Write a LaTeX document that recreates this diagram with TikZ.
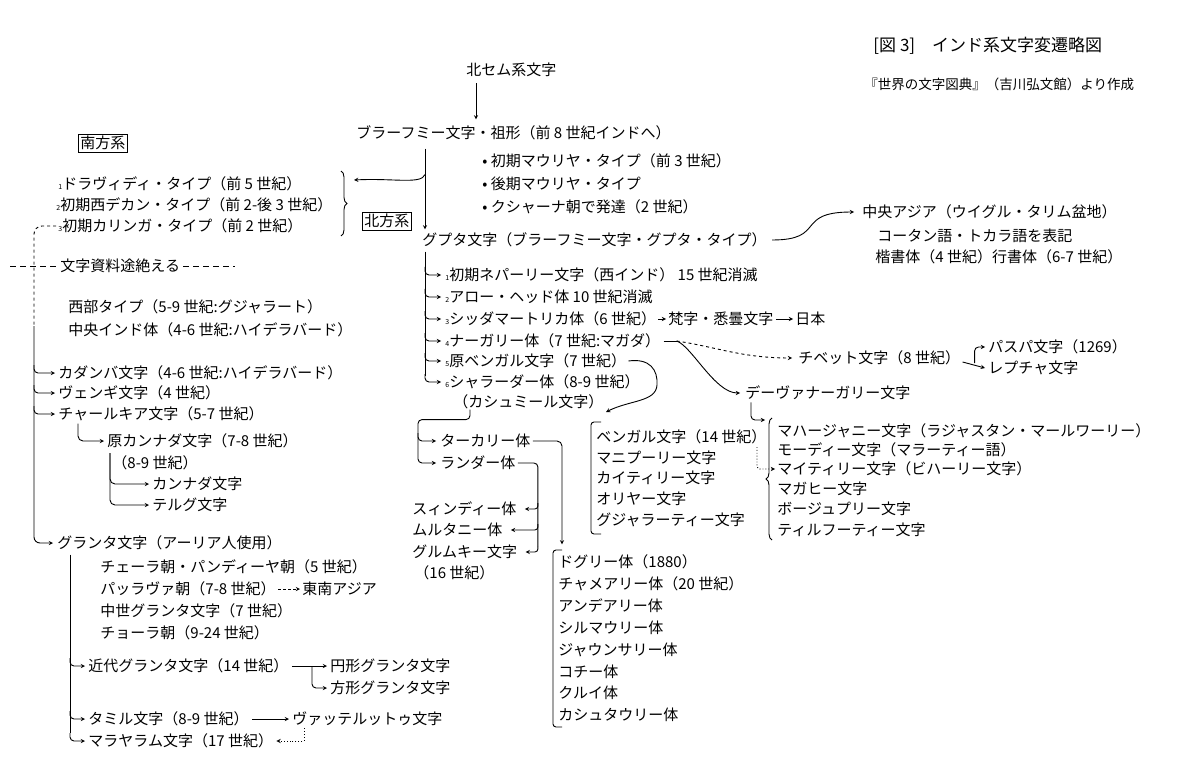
\documentclass[tikz,border=0pt]{standalone}
\usepackage{fontspec}
\setmainfont{Noto Sans CJK JP}
\usetikzlibrary{calc,decorations.pathreplacing}
\newcommand{\jpsize}{\fontsize{15}{17}\selectfont}
\newcommand{\snum}[1]{{\fontsize{7}{7}\selectfont #1}}

\begin{document}
\begin{tikzpicture}[x=1pt, y=-1pt, line width=0.9pt, every node/.style={font=\jpsize}]
        \tikzstyle{txt} = [anchor=west, inner sep=0pt]
        \tikzstyle{tag} = [draw, anchor=west, inner sep=2pt, line width=0.7pt]
        \tikzstyle{link} = [->, >=stealth]
        \useasboundingbox (0,0) rectangle (1200,770);

        % heading
        \node[txt, font=\fontsize{17}{19}\selectfont] (title) at (873,46) {[図 3]\quad インド系文字変遷略図};
        \node[txt, font=\fontsize{13.5}{15}\selectfont] (source) at (864,84) {『世界の文字図典』（吉川弘文館）より作成};

        % root
        \node[txt] (semitic) at (466,70) {北セム系文字};
        \node[txt] (brahmi) at (356,133) {ブラーフミー文字・祖形（前 8 世紀インドへ）};
        \node[txt] (maurya1) at (482,161) {•\ 初期マウリヤ・タイプ（前 3 世紀）};
        \node[txt] (maurya2) at (482,184) {•\ 後期マウリヤ・タイプ};
        \node[txt] (kushana) at (482,207) {•\ クシャーナ朝で発達（2 世紀）};
        \node[tag] (south) at (78,143) {南方系};
        \node[tag] (north) at (362,221) {北方系};

        % southern branch
        \node[txt] (dravidi) at (58,184) {\snum{1}ドラヴィディ・タイプ（前 5 世紀）};
        \node[txt] (deccan) at (56,205) {\snum{2}初期西デカン・タイプ（前 2-後 3 世紀）};
        \node[txt] (kalinga) at (58,226) {\snum{3}初期カリンガ・タイプ（前 2 世紀）};
        \node[txt] (gap) at (60,266) {文字資料途絶える};
        \node[txt] (western) at (68,307) {西部タイプ（5-9 世紀:グジャラート）};
        \node[txt] (central) at (68,330) {中央インド体（4-6 世紀:ハイデラバード）};
        \node[txt] (kadamba) at (58,373) {カダンバ文字（4-6 世紀:ハイデラバード）};
        \node[txt] (vengi) at (58,393) {ヴェンギ文字（4 世紀）};
        \node[txt] (chalukya) at (58,414) {チャールキア文字（5-7 世紀）};
        \node[txt] (protokan) at (107,441) {原カンナダ文字（7-8 世紀）};
        \node[txt] (kancent) at (112,463) {（8-9 世紀）};
        \node[txt] (kannada) at (152,484) {カンナダ文字};
        \node[txt] (telugu) at (152,505) {テルグ文字};
        \node[txt] (grantha) at (57,543) {グランタ文字（アーリア人使用）};
        \node[txt] (chera) at (100,567) {チェーラ朝・パンディーヤ朝（5 世紀）};
        \node[txt] (pallava) at (100,589) {パッラヴァ朝（7-8 世紀）};
        \node[txt] (seasia) at (302,589) {東南アジア};
        \node[txt] (medgr) at (100,611) {中世グランタ文字（7 世紀）};
        \node[txt] (chola) at (100,633) {チョーラ朝（9-24 世紀）};
        \node[txt] (modgr) at (88,666) {近代グランタ文字（14 世紀）};
        \node[txt] (roundgr) at (330,666) {円形グランタ文字};
        \node[txt] (squaregr) at (330,688) {方形グランタ文字};
        \node[txt] (tamil) at (88,719) {タミル文字（8-9 世紀）};
        \node[txt] (vatt) at (292,719) {ヴァッテルットゥ文字};
        \node[txt] (malay) at (88,741) {マラヤラム文字（17 世紀）};

        % northern branch
        \node[txt] (gupta) at (422,240) {グプタ文字（ブラーフミー文字・グプタ・タイプ）};
        \node[txt] (casia) at (862,212) {中央アジア（ウイグル・タリム盆地）};
        \node[txt] (khotan) at (877,236) {コータン語・トカラ語を表記};
        \node[txt] (kaisho) at (875,257) {楷書体（4 世紀）行書体（6-7 世紀）};
        \node[txt] (nepal) at (445,275) {\snum{1}初期ネパーリー文字（西インド） 15 世紀消滅};
        \node[txt] (arrowhd) at (445,297) {\snum{2}アロー・ヘッド体 10 世紀消滅};
        \node[txt] (siddham) at (445,319) {\snum{3}シッダマートリカ体（6 世紀）};
        \node[txt] (bonji) at (668,319) {梵字・悉曇文字};
        \node[txt] (japan) at (795,319) {日本};
        \node[txt] (nagari) at (445,341) {\snum{4}ナーガリー体（7 世紀:マガダ）};
        \node[txt] (protoben) at (445,361) {\snum{5}原ベンガル文字（7 世紀）};
        \node[txt] (sharada) at (445,382) {\snum{6}シャラーダー体（8-9 世紀）};
        \node[txt] (kashmir) at (453,402) {（カシュミール文字）};
        \node[txt] (tibet) at (798,358) {チベット文字（8 世紀）};
        \node[txt] (phags) at (988,347) {パスパ文字（1269）};
        \node[txt] (lepcha) at (988,368) {レプチャ文字};
        \node[txt] (deva) at (745,393) {デーヴァナーガリー文字};
        \node[txt] (mahajani) at (777,431) {マハージャニー文字（ラジャスタン・マールワーリー）};
        \node[txt] (modi) at (777,450) {モーディー文字（マラーティー語）};
        \node[txt] (maithili) at (777,469) {マイティリー文字（ビハーリー文字）};
        \node[txt] (magahi) at (777,489) {マガヒー文字};
        \node[txt] (bhoj) at (777,509) {ボージュプリー文字};
        \node[txt] (tirhuta) at (777,530) {ティルフーティー文字};
        \node[txt] (bengali) at (596,437) {ベンガル文字（14 世紀）};
        \node[txt] (manipuri) at (596,458) {マニプーリー文字};
        \node[txt] (kaithi) at (596,478) {カイティリー文字};
        \node[txt] (oriya) at (596,499) {オリヤー文字};
        \node[txt] (gujarati) at (596,520) {グジャラーティー文字};
        \node[txt] (takari) at (440,441) {ターカリー体};
        \node[txt] (landa) at (440,463) {ランダー体};
        \node[txt] (sindhi) at (412,509) {スィンディー体};
        \node[txt] (multani) at (412,530) {ムルタニー体};
        \node[txt] (gurmukhi) at (412,552) {グルムキー文字};
        \node[txt] (gurcent) at (414,573) {（16 世紀）};
        \node[txt] (dogri) at (558,562) {ドグリー体（1880）};
        \node[txt] (chamba) at (558,584) {チャメアリー体（20 世紀）};
        \node[txt] (mandeali) at (558,606) {アンデアリー体};
        \node[txt] (sirmauri) at (558,628) {シルマウリー体};
        \node[txt] (jaunsari) at (558,650) {ジャウンサリー体};
        \node[txt] (kochi) at (558,672) {コチー体};
        \node[txt] (kului) at (558,693) {クルイ体};
        \node[txt] (kashtwari) at (558,715) {カシュタウリー体};

        % brahmi and its split
        \coordinate (bsp) at ($(brahmi.south west)+(69,8)$);
        \coordinate (sbr) at (354,180);
        \draw[link] ($(semitic.south west)+(10,6)$) -- ($(brahmi.north west)+(120,-6)$);
        \draw[link] (bsp) -- ($(gupta.north west)+(3,-3)$);
        \draw[link] ($(bsp)+(0,26)$) .. controls +(-4,10) and +(40,-2) .. (sbr);
        \draw[decorate, decoration={brace, amplitude=6pt}] (341,171) -- (341,236);

        % southern connectors
        \coordinate (ssp) at ($(kalinga.west)+(-24,0)$);
        \draw[dashed, rounded corners=8pt] ($(kalinga.west)+(-2,0)$) -| ($(ssp)+(0,100)$);
        \draw[link, rounded corners=6pt] ($(ssp)+(0,100)$) |- ($(grantha.west)+(-4,0)$);
        \draw[dash pattern=on 6pt off 4pt] ($(gap.west)+(-50,0)$) -- ($(gap.west)+(-3,0)$);
        \draw[dash pattern=on 6pt off 4pt] ($(gap.east)+(3,0)$) -- ($(gap.east)+(55,0)$);
        \draw[link, rounded corners=4pt] ($(ssp |- kadamba.west)+(0,-8)$) |- ($(kadamba.west)+(-3,0)$);
        \draw[link, rounded corners=4pt] ($(ssp |- vengi.west)+(0,-8)$) |- ($(vengi.west)+(-3,0)$);
        \draw[link, rounded corners=4pt] ($(ssp |- chalukya.west)+(0,-8)$) |- ($(chalukya.west)+(-3,0)$);
        \draw[link, rounded corners=5pt] ($(chalukya.south west)+(20,2)$) |- ($(protokan.west)+(-3,0)$);
        \coordinate (ksp) at ($(kancent.west)+(-2,-10)$);
        \draw[link, rounded corners=5pt] (ksp) |- ($(kannada.west)+(-3,0)$);
        \draw[link, rounded corners=5pt] (ksp) |- ($(telugu.west)+(-3,0)$);

        \coordinate (tsp) at ($(grantha.south west)+(13,4)$);
        \draw (tsp) -- ($(tsp |- malay.west)+(0,-8)$);
        \draw[link, rounded corners=4pt] ($(tsp |- modgr.west)+(0,-8)$) |- ($(modgr.west)+(-3,0)$);
        \draw[link, rounded corners=4pt] ($(tsp |- tamil.west)+(0,-8)$) |- ($(tamil.west)+(-3,0)$);
        \draw[link, rounded corners=4pt] ($(tsp |- malay.west)+(0,-8)$) |- ($(malay.west)+(-3,0)$);
        \draw[link, densely dashed] ($(pallava.east)+(2,0)$) -- ($(seasia.west)+(-2,0)$);
        \draw[link] ($(modgr.east)+(3,0)$) -- ($(roundgr.west)+(-3,0)$);
        \draw[link, rounded corners=4pt] ($(roundgr.west)+(-18,0)$) |- ($(squaregr.west)+(-3,0)$);
        \draw[link] ($(tamil.east)+(3,0)$) -- ($(vatt.west)+(-3,0)$);
        \draw[link, dotted] ($(vatt.south west)+(12,2)$) |- ($(malay.east)+(3,0)$);

        % northern connectors
        \draw[link] ($(gupta.east)+(5,0)$) .. controls +(55,0) and +(-60,0) .. ($(casia.west)+(-8,0)$);
        \coordinate (gsp) at ($(gupta.south west)+(3,4)$);
        \draw (gsp) -- ($(gsp |- sharada.west)+(0,-6)$);
        \draw[link, rounded corners=4pt] ($(gsp |- nepal.west)+(0,-8)$) |- ($(nepal.west)+(-4,0)$);
        \draw[link, rounded corners=4pt] ($(gsp |- arrowhd.west)+(0,-8)$) |- ($(arrowhd.west)+(-4,0)$);
        \draw[link, rounded corners=4pt] ($(gsp |- siddham.west)+(0,-8)$) |- ($(siddham.west)+(-4,0)$);
        \draw[link, rounded corners=4pt] ($(gsp |- nagari.west)+(0,-8)$) |- ($(nagari.west)+(-4,0)$);
        \draw[link, rounded corners=4pt] ($(gsp |- protoben.west)+(0,-8)$) |- ($(protoben.west)+(-4,0)$);
        \draw[link, rounded corners=4pt] ($(gsp |- sharada.west)+(0,-8)$) |- ($(sharada.west)+(-4,0)$);
        \draw[link] ($(siddham.east)+(2,0)$) -- ($(bonji.west)+(-2,0)$);
        \draw[link] ($(bonji.east)+(2,0)$) -- ($(japan.west)+(-2,0)$);

        \coordinate (ng) at ($(nagari.east)+(16,0)$);
        \draw ($(nagari.east)+(3,0)$) -- (ng);
        \draw[link, dashed] (ng) .. controls +(40,6) and +(-50,0) .. ($(tibet.west)+(-6,0)$);
        \draw[link] (ng) .. controls +(15,5) and +(-25,0) .. ($(deva.west)+(-5,0)$);
        \draw[link] ($(tibet.east)+(2,4)$) -- ($(lepcha.west)+(-3,0)$);
        \draw[link, rounded corners=4pt] ($(tibet.east)+(14,5)$) |- ($(phags.west)+(-3,0)$);

        \coordinate (dbr) at (765,420);
        \draw[link, rounded corners=4pt] ($(deva.south west)+(6,2)$) |- (dbr);
        \draw[decorate, decoration={brace, amplitude=6pt}] (772,540) -- (772,418);
        \draw[link, dotted, rounded corners=3pt] ($(maithili.west)+(-20,-22)$) |- ($(maithili.west)+(-2,0)$);

        \coordinate (bbr) at (606,412);
        \draw[link] ($(protoben.east)+(2,0)$) .. controls (650,358) and (658,370) .. (657,385) .. controls (656,402) and (630,400) .. (bbr);
        \draw[rounded corners=3pt] ($(bengali.west)+(5,-15)$) -| ($(bengali.west)+(-5,10)$) |- ($(gujarati.west)+(5,14)$);

        \draw[link, rounded corners=4pt] ($(kashmir.south west)+(17,0)$) |- ++(-52,10) |- ($(takari.west)+(-4,0)$);
        \draw[link, rounded corners=4pt] ($(takari.west)+(-22,-8)$) |- ($(landa.west)+(-4,0)$);
        \draw[link, rounded corners=5pt] ($(takari.east)+(2,0)$) -| ($(dogri.north west)+(4,-10)$);
        \draw[rounded corners=3pt] ($(dogri.west)+(4,-12)$) -| ($(dogri.west)+(-5,10)$) |- ($(kashtwari.west)+(4,12)$);

        \coordinate (lsp) at ($(landa.east)+(22,0)$);
        \draw[rounded corners=4pt] ($(landa.east)+(2,0)$) -| ($(lsp |- gurmukhi.east)+(0,-6)$);
        \draw[link, rounded corners=3pt] ($(lsp |- sindhi.east)+(0,-6)$) |- ($(sindhi.east)+(8,0)$);
        \draw[link, rounded corners=3pt] ($(lsp |- multani.east)+(0,-6)$) |- ($(multani.east)+(8,0)$);
        \draw[link, rounded corners=3pt] ($(lsp |- gurmukhi.east)+(0,-6)$) |- ($(gurmukhi.east)+(8,0)$);
      \end{tikzpicture}
\end{document}
